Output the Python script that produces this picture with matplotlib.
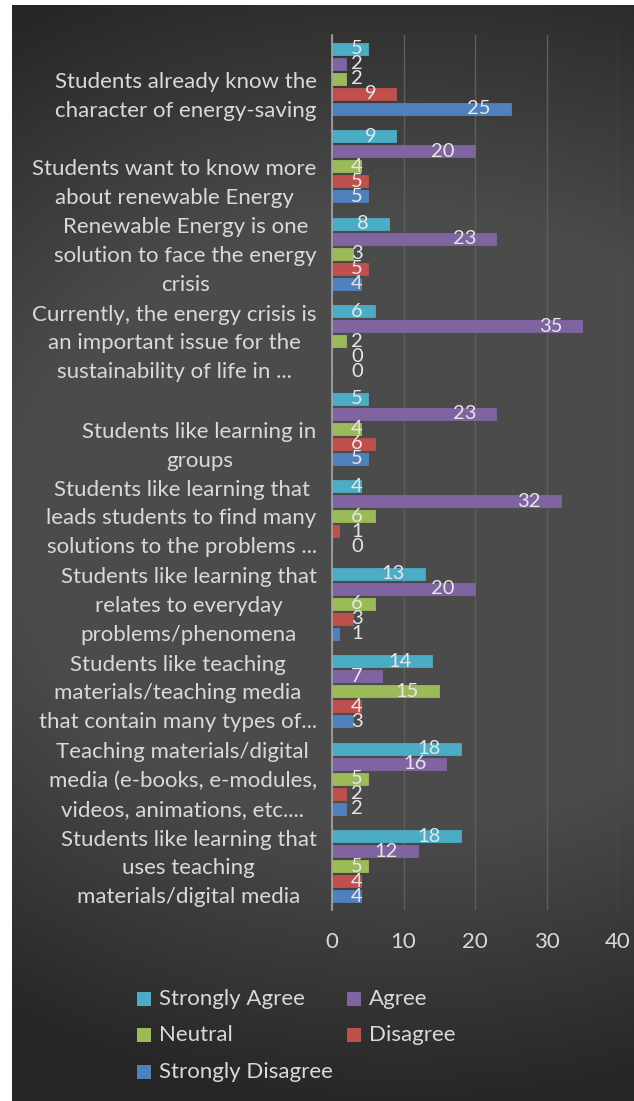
import matplotlib
matplotlib.use("Agg")
import matplotlib.pyplot as plt
from matplotlib.patches import Rectangle
import numpy as np

# categories, top to bottom as shown in the chart
categories = [
    "Students already know the\ncharacter of energy-saving",
    "Students want to know more\nabout renewable Energy",
    "Renewable Energy is one\nsolution to face the energy\ncrisis",
    "Currently, the energy crisis is\nan important issue for the\nsustainability of life in ...",
    "Students like learning in\ngroups",
    "Students like learning that\nleads students to find many\nsolutions to the problems ...",
    "Students like learning that\nrelates to everyday\nproblems/phenomena",
    "Students like teaching\nmaterials/teaching media\nthat contain many types of...",
    "Teaching materials/digital\nmedia (e-books, e-modules,\nvideos, animations, etc....",
    "Students like learning that\nuses teaching\nmaterials/digital media",
]

series_names = ["Strongly Agree", "Agree", "Neutral", "Disagree", "Strongly Disagree"]
strongly_agree = [5, 9, 8, 6, 5, 4, 13, 14, 18, 18]
agree = [2, 20, 23, 35, 23, 32, 20, 7, 16, 12]
neutral = [2, 4, 3, 2, 4, 6, 6, 15, 5, 5]
disagree = [9, 5, 5, 0, 6, 1, 3, 4, 2, 4]
strongly_disagree = [25, 5, 4, 0, 5, 0, 1, 3, 2, 4]
series_values = [strongly_agree, agree, neutral, disagree, strongly_disagree]
colors = ["#4BACC6", "#8064A2", "#9BBB59", "#C0504D", "#4F81BD"]

x_ticks = [0, 10, 20, 30, 40]

W, H = 634, 1101
fig = plt.figure(figsize=(W / 100, H / 100), dpi=100)
fig.patch.set_facecolor("white")
plt.rcParams["font.family"] = ["Lato", "DejaVu Sans"]
txt_color = "#d9d9d9"
fs = 16

# dark radial background of the chart area
bg = fig.add_axes([12 / W, 0, (W - 12) / W, (H - 5) / H])
yy, xx = np.mgrid[5:H, 12:W]
r = np.sqrt(((xx - 400) / 700.0) ** 2 + ((yy - 520) / 560.0) ** 2)
t = np.clip((r - 0.55) / 0.5, 0, 1)
shade = (0x4b - 0x25 * t) / 255.0
bg.imshow(np.dstack([shade, shade, shade]), aspect="auto", interpolation="bilinear")
bg.axis("off")

# plot area
ax = fig.add_axes([332 / W, 1 - 910 / H, (618 - 332) / W, (910 - 35) / H])
ax.set_facecolor("none")

n = len(categories)
pitch = 15 / 87.5
bar_h = 12 / 87.5
y = np.arange(n)
for i, (name, vals, c) in enumerate(zip(series_names, series_values, colors)):
    pos = y + (i - 2) * pitch
    ax.barh(pos, vals, height=bar_h, color=c, edgecolor=c, linewidth=0.6, label=name, zorder=3)
    for p, v in zip(pos, vals):
        ax.text(max(v - 2.8, 4.3), p, str(v), ha="right", va="center",
                fontsize=14.5, color="#e6e6e6", zorder=4)

ax.set_xlim(0, 40)
ax.set_ylim(n - 0.5, -0.5)
ax.set_xticks(x_ticks)
ax.set_xticklabels([str(v) for v in x_ticks])
ax.set_yticks([])
ax.tick_params(axis="x", length=0, pad=16, labelsize=fs, labelcolor=txt_color)
ax.grid(axis="x", color="#5e5e5e", linewidth=1, zorder=0)
for s in ["top", "right", "bottom"]:
    ax.spines[s].set_visible(False)
ax.spines["left"].set_color("#a6a6a6")
ax.spines["left"].set_linewidth(1.2)
ax.spines["left"].set_zorder(5)

# category labels, Excel style: right aligned block, centred lines
for k, lab in enumerate(categories):
    nl = lab.count("\n") + 1
    off = -(3 - nl) * 11 - 1.5
    ax.annotate(lab, xy=(0, k), xycoords=("axes fraction", "data"),
                xytext=(-11, off), textcoords="offset points",
                ha="right", va="center", multialignment="center",
                fontsize=fs, color=txt_color, linespacing=1.55)

# legend, laid out by hand
leg_pos = [(137, 999), (347, 999), (137, 1035), (347, 1035), (137, 1072)]
for (lx, ly), name, c in zip(leg_pos, series_names, colors):
    fig.add_artist(Rectangle((lx / W, 1 - (ly + 7) / H), 14 / W, 14 / H,
                             transform=fig.transFigure, facecolor=c, edgecolor="none"))
    fig.text((lx + 22) / W, 1 - ly / H, name, ha="left", va="center",
             fontsize=fs, color=txt_color)

fig.savefig("out.png", dpi=100, facecolor=fig.get_facecolor())
